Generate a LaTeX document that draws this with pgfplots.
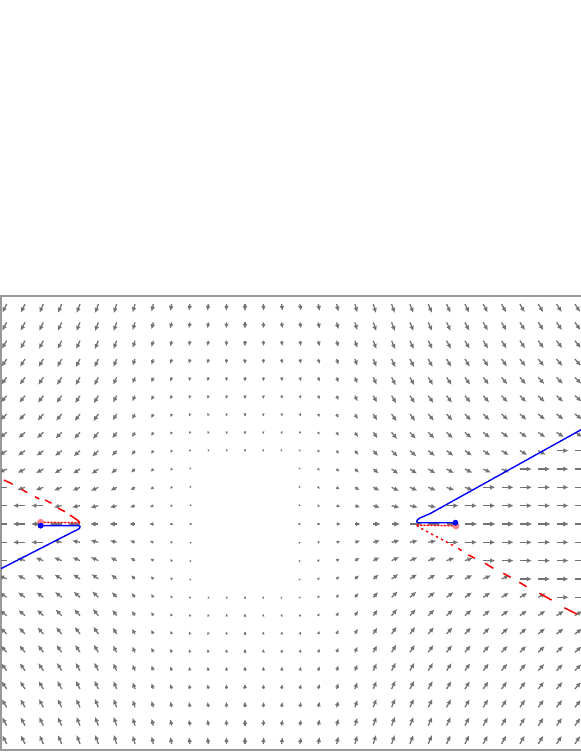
\documentclass[border=0pt]{standalone}
\usepackage{pgfplots}
\pgfplotsset{compat=1.18}
\usepackage{pgfplotstable}
\usetikzlibrary{arrows.meta}

% one quadrant of the field (x>=0, y>=0); u,v in pixels, mirrored below
\pgfplotstableread{
x y u v
3 0 0.8 0
4 0 2.2 0
5 0 3.8 0
6 0 5.4 0
7 0 7.0 0
8 0 8.0 0
9 0 12 0
10 0 12 0
11 0 12 0
12 0 12 0
13 0 12 0
14 0 12 0
15 0 12 0
16 0 12 0
17 0 12 0
18 0 12 0
3 1 0.71 -0.37
4 1 2.07 -0.87
5 1 3.62 -1.27
6 1 5.21 -1.58
7 1 6.80 -1.82
8 1 7.90 -1.90
9 1 7.94 -1.74
10 1 7.97 -1.60
11 1 12 0
12 1 12 0
13 1 12 0
14 1 12 0
15 1 12 0
16 1 12 0
17 1 12 0
18 1 12 0
3 2 0.55 -0.58
4 2 1.72 -1.44
5 2 3.14 -2.20
6 2 4.65 -2.82
7 2 6.21 -3.32
8 2 7.44 -3.58
9 2 7.57 -3.31
10 2 7.66 -3.08
11 2 7.74 -2.89
12 2 7.80 -2.71
13 2 12 0
14 2 12 0
15 2 12 0
16 2 12 0
17 2 12 0
18 2 12 0
3 3 0.48 -0.76
4 3 1.44 -1.81
5 3 2.67 -2.81
6 3 4.05 -3.68
7 3 5.50 -4.42
8 3 6.80 -4.91
9 3 7.01 -4.61
10 3 7.18 -4.34
11 3 7.32 -4.10
12 3 7.44 -3.88
13 3 7.54 -3.69
14 3 7.62 -3.51
15 3 12 0
16 3 12 0
17 3 12 0
18 3 12 0
0 4 0 -1.26
1 4 0.24 -1.24
2 4 0.41 -1.19
3 4 0.60 -1.27
4 4 1.32 -2.21
5 4 2.35 -3.29
6 4 3.55 -4.30
7 4 4.88 -5.23
8 4 6.14 -5.91
9 4 6.41 -5.61
10 4 6.64 -5.34
11 4 6.83 -5.09
12 4 6.99 -4.87
13 4 7.13 -4.66
14 4 7.26 -4.46
15 4 7.36 -4.29
16 4 7.46 -4.12
17 4 12 0
18 4 12 0
0 5 0 -1.96
1 5 0.30 -1.94
2 5 0.52 -1.89
3 5 0.73 -1.93
4 5 1.28 -2.69
5 5 2.14 -3.74
6 5 3.18 -4.82
7 5 4.37 -5.86
8 5 5.53 -6.65
9 5 5.83 -6.39
10 5 6.10 -6.14
11 5 6.33 -5.90
12 5 6.53 -5.68
13 5 6.70 -5.47
14 5 6.86 -5.27
15 5 6.99 -5.09
16 5 7.12 -4.92
17 5 7.22 -4.76
18 5 7.32 -4.60
0 6 0 -2.66
1 6 0.35 -2.64
2 6 0.59 -2.59
3 6 0.83 -2.61
4 6 1.29 -3.23
5 6 2.01 -4.22
6 6 2.92 -5.31
7 6 3.98 -6.39
8 6 5.00 -7.22
9 6 5.32 -6.99
10 6 5.60 -6.76
11 6 5.85 -6.55
12 6 6.07 -6.34
13 6 6.27 -6.14
14 6 6.45 -5.95
15 6 6.61 -5.78
16 6 6.76 -5.60
17 6 6.89 -5.44
18 6 7.01 -5.29
0 7 0 -3.36
1 7 0.38 -3.34
2 7 0.65 -3.30
3 7 0.89 -3.30
4 7 1.30 -3.82
5 7 1.93 -4.72
6 7 2.73 -5.78
7 7 3.67 -6.88
8 7 4.55 -7.66
9 7 4.87 -7.46
10 7 5.16 -7.27
11 7 5.42 -7.07
12 7 5.65 -6.89
13 7 5.87 -6.70
14 7 6.06 -6.53
15 7 6.24 -6.36
16 7 6.40 -6.20
17 7 6.55 -6.04
18 7 6.69 -5.89
0 8 0 -4.06
1 8 0.40 -4.04
2 8 0.69 -4.00
3 8 0.95 -4.00
4 8 1.33 -4.45
5 8 1.88 -5.27
6 8 2.59 -6.28
7 8 3.44 -7.37
8 8 4.17 -8.02
9 8 4.48 -7.85
10 8 4.77 -7.68
11 8 5.03 -7.51
12 8 5.27 -7.34
13 8 5.50 -7.18
14 8 5.70 -7.01
15 8 5.89 -6.86
16 8 6.06 -6.70
17 8 6.22 -6.56
18 8 6.37 -6.41
0 9 0 -4.76
1 9 0.42 -4.74
2 9 0.72 -4.71
3 9 0.99 -4.70
4 9 1.35 -5.08
5 9 1.85 -5.83
6 9 2.49 -6.79
7 9 3.26 -7.85
8 9 3.84 -8.33
9 9 4.15 -8.18
10 9 4.43 -8.03
11 9 4.69 -7.88
12 9 4.94 -7.73
13 9 5.16 -7.58
14 9 5.37 -7.43
15 9 5.56 -7.29
16 9 5.75 -7.15
17 9 5.91 -7.01
18 9 6.07 -6.87
0 10 0 -5.46
1 10 0.43 -5.44
2 10 0.74 -5.41
3 10 1.02 -5.40
4 10 1.37 -5.74
5 10 1.83 -6.42
6 10 2.42 -7.32
7 10 3.12 -8.35
8 10 3.57 -8.59
9 10 3.86 -8.46
10 10 4.14 -8.33
11 10 4.40 -8.20
12 10 4.63 -8.06
13 10 4.86 -7.93
14 10 5.07 -7.80
15 10 5.27 -7.66
16 10 5.45 -7.53
17 10 5.62 -7.41
18 10 5.79 -7.28
0 11 0 -6.16
1 11 0.44 -6.14
2 11 0.76 -6.11
3 11 1.05 -6.10
4 11 1.39 -6.40
5 11 1.82 -7.03
6 11 2.36 -7.87
7 11 3.01 -8.85
8 11 3.33 -8.82
9 11 3.62 -8.71
10 11 3.88 -8.59
11 11 4.13 -8.48
12 11 4.37 -8.36
13 11 4.59 -8.24
14 11 4.80 -8.12
15 11 5.00 -8.00
16 11 5.18 -7.88
17 11 5.36 -7.76
18 11 5.52 -7.64
0 12 0 -6.86
1 12 0.45 -6.84
2 12 0.78 -6.82
3 12 1.08 -6.81
4 12 1.41 -7.08
5 12 1.82 -7.65
6 12 2.32 -8.45
7 12 2.84 -9.13
8 12 3.13 -9.03
9 12 3.40 -8.93
10 12 3.66 -8.83
11 12 3.90 -8.73
12 12 4.13 -8.62
13 12 4.35 -8.51
14 12 4.56 -8.41
15 12 4.75 -8.30
16 12 4.94 -8.19
17 12 5.11 -8.08
18 12 5.28 -7.97
}\fieldtab

% red dashes, right branch
\pgfplotstableread{
x y
11.64 -1.33
11.82 -1.46
nan nan
12.18 -1.69
12.55 -1.87
nan nan
13.09 -2.14
13.55 -2.42
nan nan
14.09 -2.69
14.50 -2.91
nan nan
14.96 -3.18
15.37 -3.42
nan nan
16.06 -3.78
16.73 -4.15
nan nan
17.42 -4.57
18.10 -4.91
nan nan
18.80 -5.30
19.50 -5.69
}\redright

% red dashes, left branch
\pgfplotstableread{
x y
-9.00 0.07
-9.15 0.22
-9.55 0.49
nan nan
-9.82 0.67
-10.19 0.86
nan nan
-10.55 1.13
-10.91 1.31
nan nan
-11.22 1.36
-11.46 1.49
nan nan
-11.88 1.71
-12.18 1.89
nan nan
-12.67 2.17
-13.15 2.40
}\redleft

\pgfplotsset{
  field/.style 2 args={
    color=black!55,
    -{Latex[length=0pt 4.0,width=0pt 3.8]},
    point meta={veclen(\thisrow{u},\thisrow{v})},
    quiver={
      u={(#1)*(\thisrow{u})},
      v={(#2)*(\thisrow{v})},
      scale arrows=0.05456,
      every arrow/.append style={line width={(min(0.64,0.22+0.0007*\pgfplotspointmetatransformed))*1pt}},
    },
  },
}

\begin{document}
\begin{tikzpicture}
\useasboundingbox (0,0) rectangle (290.5pt,376pt);
\begin{axis}[
  at={(0.5pt,1pt)}, anchor=south west,
  x=9.165pt, y=9.165pt,
  xmin=-13.31, xmax=19.5,
  ymin=-12.33, ymax=12.44,
  enlargelimits=false,
  ticks=none,
  axis line style={black!40, line width=0.6pt},
  point meta min=0, point meta max=12,
]
\addplot[field={1}{1}] table {\fieldtab};
\addplot[field={-1}{1}] table[x expr={-(\thisrow{x})}, y=y] {\fieldtab};
\addplot[field={1}{-1}] table[x=x, y expr={-(\thisrow{y})}] {\fieldtab};
\addplot[field={-1}{-1}] table[x expr={-(\thisrow{x})}, y expr={-(\thisrow{y})}] {\fieldtab};

% blue trajectories
\addplot[blue, line width=0.7pt] coordinates {
  (11.48,0.07) (9.45,0.07) (9.37,0.12) (9.40,0.22) (9.55,0.33)
  (9.80,0.44) (10.09,0.56) (19.5,5.79)
};
\addplot[blue, line width=0.7pt] coordinates {
  (-11.15,-0.09) (-9.08,-0.09) (-9.00,-0.14) (-9.03,-0.24)
  (-9.17,-0.33) (-9.37,-0.42) (-14.0,-2.79)
};

% red trajectories
\addplot[red!40, line width=0.6pt] coordinates {(11.51,-0.10) (9.37,-0.06)};
\addplot[red, line width=0.7pt, dash pattern=on 0.8pt off 0.9pt] coordinates {(11.51,-0.10) (9.37,-0.06)};
\addplot[red, line width=0.7pt, dash pattern=on 1.2pt off 1.6pt] coordinates {
  (9.37,-0.06) (9.50,-0.18) (9.80,-0.34) (11.40,-1.20)
};
\addplot[red, line width=0.75pt, unbounded coords=jump] table {\redright};

\addplot[red!40, line width=0.6pt] coordinates {(-11.15,0.09) (-9.00,0.07)};
\addplot[red, line width=0.7pt, dash pattern=on 0.8pt off 0.9pt] coordinates {(-11.15,0.09) (-9.00,0.07)};
\addplot[red, line width=0.75pt, unbounded coords=jump] table {\redleft};

% start points
\addplot[only marks, mark=*, mark size=1.5pt, color=red!50] coordinates {(11.51,-0.11) (-11.15,0.09)};
\addplot[only marks, mark=*, mark size=1.25pt, color=blue] coordinates {(11.48,0.07) (-11.15,-0.09)};
\end{axis}
\end{tikzpicture}
\end{document}
